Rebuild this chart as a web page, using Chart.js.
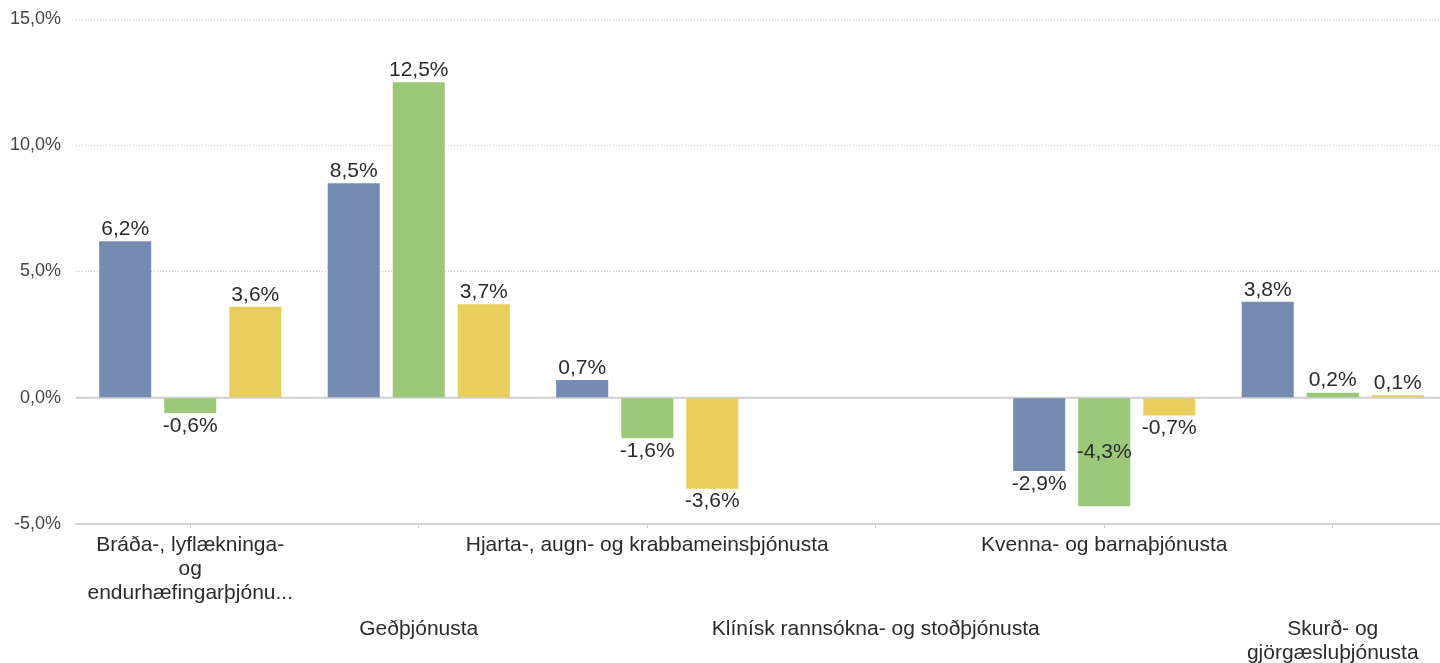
<!DOCTYPE html>
<html>
<head>
<meta charset="utf-8">
<script src="https://cdn.jsdelivr.net/npm/chart.js@4"></script>
<style>
html,body{margin:0;padding:0;background:#fff;overflow:hidden;}
#wrap{width:1440px;height:663px;position:relative;overflow:hidden;}
</style>
</head>
<body>
<div id="wrap"><canvas id="c" width="1447" height="663"></canvas></div>
<script>
const categories = [
  ['Bráða-, lyflækninga-', 'og', 'endurhæfingarþjónu...'],
  'Geðþjónusta',
  'Hjarta-, augn- og krabbameinsþjónusta',
  'Klínísk rannsókna- og stoðþjónusta',
  'Kvenna- og barnaþjónusta',
  ['Skurð- og', 'gjörgæsluþjónusta']
];
const seriesBlue   = [6.2, 8.5, 0.7, null, -2.9, 3.8];
const seriesGreen  = [-0.6, 12.5, -1.6, null, -4.3, 0.2];
const seriesYellow = [3.6, 3.7, -3.6, null, -0.7, 0.1];
const yTicks = [-5, 0, 5, 10, 15];

const FONT = '"Liberation Sans", Arial, sans-serif';
const fmt = v => v.toFixed(1).replace('.', ',') + '%';

const zeroLine = {
  id: 'zeroLine',
  beforeDatasetsDraw(chart) {
    const {ctx, chartArea, scales} = chart;
    const y = scales.y.getPixelForValue(0);
    ctx.save();
    ctx.strokeStyle = '#cfcfcf';
    ctx.lineWidth = 2;
    ctx.beginPath();
    ctx.moveTo(chartArea.left, y);
    ctx.lineTo(chartArea.right, y);
    ctx.stroke();
    ctx.restore();
  }
};

const valueLabels = {
  id: 'valueLabels',
  afterDatasetsDraw(chart) {
    const {ctx, chartArea} = chart;
    ctx.save();
    ctx.font = '21px ' + FONT;
    ctx.fillStyle = '#2b2b2b';
    ctx.textAlign = 'center';
    ctx.textBaseline = 'middle';
    chart.data.datasets.forEach((ds, di) => {
      const meta = chart.getDatasetMeta(di);
      meta.data.forEach((el, i) => {
        const v = ds.data[i];
        if (v === null || v === undefined) return;
        let y;
        if (v >= 0) {
          y = el.y - 12;
        } else {
          y = el.y + 13;
          if (y + 10 > chartArea.bottom) y = (el.y + el.base) / 2;
        }
        ctx.fillText(fmt(v), el.x, y);
      });
    });
    ctx.restore();
  }
};

new Chart(document.getElementById('c'), {
  type: 'bar',
  data: {
    labels: categories,
    datasets: [
      {label: 'A', data: seriesBlue, backgroundColor: '#748CB2'},
      {label: 'B', data: seriesGreen, backgroundColor: '#9BC778'},
      {label: 'C', data: seriesYellow, backgroundColor: '#E8CE5C'}
    ]
  },
  options: {
    responsive: false,
    animation: false,
    events: [],
    categoryPercentage: 0.854,
    barPercentage: 0.8,
    layout: {padding: {top: 0, left: 0, right: 0, bottom: 0}},
    plugins: {legend: {display: false}, tooltip: {enabled: false}},
    scales: {
      x: {
        type: 'category',
        offset: true,
        weight: 0,
        afterFit: s => { s.height = 81; },
        grid: {display: true, drawOnChartArea: false, drawTicks: true, tickLength: 4, offset: false, color: '#d0d0d0'},
        border: {display: true, color: '#d3d3d3', width: 2},
        ticks: {
          autoSkip: false, maxRotation: 0, minRotation: 0, padding: 5,
          color: '#2b2b2b',
          font: {family: FONT, size: 21, lineHeight: '24px'},
          callback: function(value, index) { return index % 2 === 0 ? this.getLabelForValue(value) : ''; }
        }
      },
      x2: {
        type: 'category',
        position: 'bottom',
        offset: true,
        weight: 1,
        afterFit: s => { s.height = 58; },
        grid: {display: false},
        border: {display: false},
        ticks: {
          autoSkip: false, maxRotation: 0, minRotation: 0, padding: 4,
          color: '#2b2b2b',
          font: {family: FONT, size: 21, lineHeight: '24px'},
          callback: function(value, index) { return index % 2 === 1 ? this.getLabelForValue(value) : ''; }
        }
      },
      y: {
        min: yTicks[0],
        max: yTicks[yTicks.length - 1],
        afterBuildTicks: s => { s.ticks = yTicks.map(v => ({value: v})); },
        afterFit: s => { s.width = 76; },
        grid: {color: '#c8c8c8', lineWidth: 1, drawTicks: false},
        border: {display: false, dash: [1, 2]},
        ticks: {
          padding: 15,
          color: '#444444',
          font: {family: FONT, size: 18, lineHeight: '8px'},
          callback: v => fmt(v)
        }
      }
    }
  },
  plugins: [zeroLine, valueLabels]
});
</script>
</body>
</html>
